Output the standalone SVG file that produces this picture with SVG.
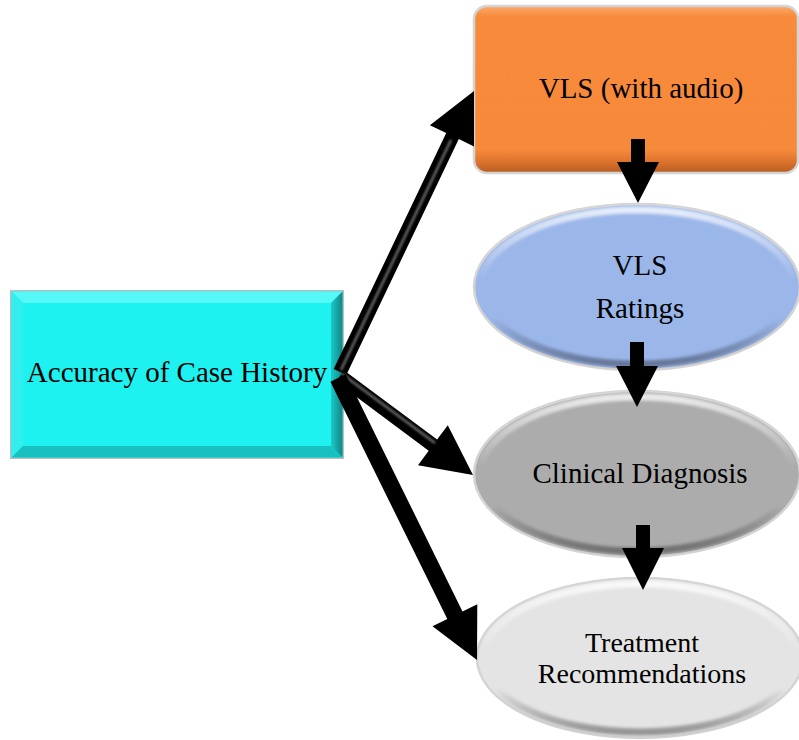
<svg xmlns="http://www.w3.org/2000/svg" width="799" height="740" viewBox="0 0 799 740">
  <defs>
    <style>
      .label { font-family: "Liberation Serif", "Times New Roman", serif; font-size: 29px; fill: #000; text-anchor: middle; }
      .tight { font-size: 28px; }
      .outline { stroke: #d4d4d4; stroke-width: 2.5; }
      .rim { fill: none; stroke: url(#rimShade); stroke-width: 7; filter: url(#soft); }
      .block { fill: #000; }
    </style>
    <filter id="soft" x="-5%" y="-5%" width="110%" height="110%">
      <feGaussianBlur stdDeviation="1.6"/>
    </filter>
    <filter id="glow" x="-20%" y="-20%" width="140%" height="140%">
      <feGaussianBlur stdDeviation="1.2"/>
    </filter>
    <!-- inner rim: light on top, shadowed at the bottom -->
    <linearGradient id="rimShade" x1="0" y1="0" x2="0" y2="1">
      <stop offset="0" stop-color="#ffffff" stop-opacity="0.75"/>
      <stop offset="0.45" stop-color="#ffffff" stop-opacity="0"/>
      <stop offset="0.7" stop-color="#000000" stop-opacity="0"/>
      <stop offset="1" stop-color="#000000" stop-opacity="0.35"/>
    </linearGradient>
    <linearGradient id="orangeFill" x1="0" y1="0" x2="0" y2="1">
      <stop offset="0" stop-color="#fbab6e"/>
      <stop offset="0.06" stop-color="#f88b3b"/>
      <stop offset="0.86" stop-color="#f7893a"/>
      <stop offset="0.94" stop-color="#d9712c"/>
      <stop offset="1" stop-color="#b45c22"/>
    </linearGradient>
    <linearGradient id="cyanRight" x1="0" y1="0" x2="1" y2="0">
      <stop offset="0" stop-color="#1cc9c9"/>
      <stop offset="1" stop-color="#118585"/>
    </linearGradient>
  </defs>

  <rect width="799" height="740" fill="#ffffff"/>

  <!-- source node: bevelled cyan block -->
  <g id="case-history">
    <rect x="10" y="290" width="334" height="169" fill="#bdbdbd"/>
    <rect x="11.5" y="291.5" width="331" height="166" fill="#1ef2f1"/>
    <polygon points="11.5,291.5 342.5,291.5 331,303 23,303" fill="#55f7f7"/>
    <polygon points="11.5,291.5 23,303 23,446 11.5,457.5" fill="#33eeee"/>
    <polygon points="342.5,291.5 342.5,457.5 331,446 331,303" fill="url(#cyanRight)"/>
    <polygon points="11.5,457.5 342.5,457.5 331,446 23,446" fill="#19c0c0"/>
    <text class="label" x="177" y="382">Accuracy of Case History</text>
  </g>

  <!-- audio recording node -->
  <g id="vls-audio">
    <rect x="474" y="6" width="324" height="167" rx="13" fill="url(#orangeFill)" class="outline"/>
    <text class="label" x="641" y="98">VLS (with audio)</text>
  </g>

  <!-- ratings node -->
  <g id="vls-ratings">
    <ellipse cx="637" cy="287" rx="163" ry="83" fill="#9bb6e9" class="outline"/>
    <ellipse cx="637" cy="287" rx="157" ry="77" class="rim"/>
    <text class="label" x="640" y="275">VLS</text>
    <text class="label" x="640" y="318">Ratings</text>
  </g>

  <!-- diagnosis node -->
  <g id="clinical-diagnosis">
    <ellipse cx="637" cy="474" rx="163" ry="83" fill="#acacac" class="outline"/>
    <ellipse cx="637" cy="474" rx="157" ry="77" class="rim"/>
    <text class="label" x="640" y="483">Clinical Diagnosis</text>
  </g>

  <!-- recommendations node -->
  <g id="treatment">
    <ellipse cx="640" cy="658" rx="163" ry="80" fill="#e4e4e4" class="outline"/>
    <ellipse cx="640" cy="658" rx="157" ry="74" class="rim"/>
    <text class="label tight" x="642" y="652">Treatment</text>
    <text class="label tight" x="642" y="683">Recommendations</text>
  </g>

  <!-- connectors -->
  <g id="connectors">
    <!-- fan-out from the source block -->
    <polygon class="block" points="333.7,369 446.2,133.1 429.9,125.3 474,91 474,146.4 458.8,139.1 346.3,375"/>
    <line x1="341" y1="370" x2="451" y2="140" stroke="#6a6a6a" stroke-width="2.5" filter="url(#glow)"/>
    <polygon class="block" points="344.2,370.4 437.1,439.6 447.8,425.2 473,475 418,465.2 428.7,450.8 335.8,381.6"/>
    <line x1="342" y1="374" x2="435" y2="443" stroke="#6a6a6a" stroke-width="2.5" filter="url(#glow)"/>
    <polygon class="block" points="345.6,374.2 462.5,611.4 477.3,604.2 477,660 432.5,626.2 447.3,619 330.4,381.8"/>

    <!-- downward chain -->
    <polygon class="block" points="631,139 645,139 645,162 659,162 638,203 617,162 631,162"/>
    <polygon class="block" points="630,342 644,342 644,366 658,366 637,407 616,366 630,366"/>
    <polygon class="block" points="636,525 650,525 650,548 664,548 643,590 622,548 636,548"/>
  </g>
</svg>
